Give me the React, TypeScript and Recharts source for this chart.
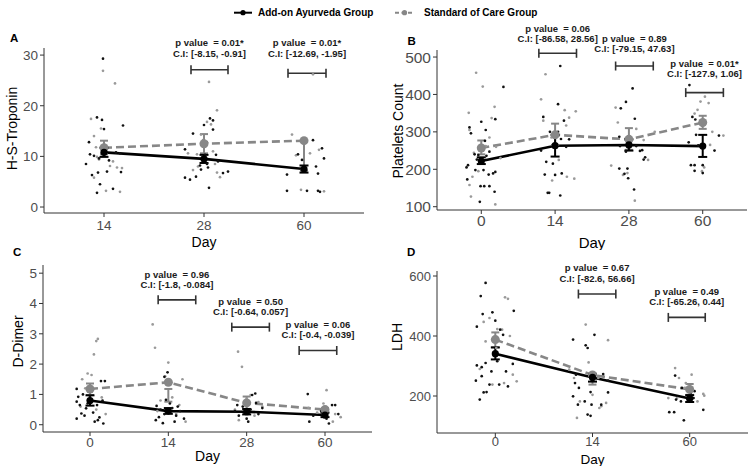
import React from "react";
import {
  ComposedChart,
  Scatter,
  Line,
  XAxis,
  YAxis,
  ErrorBar,
  ReferenceLine,
  ReferenceDot,
} from "recharts";

const FONT = '"Liberation Sans", Arial, Helvetica, sans-serif';
const BLACK = "#000000";
const GREY = "#878787";
const GREY_PT = "#9a9a9a";

// ---------- Panel A : H-S-Troponin ----------
const troponinDays = ["14", "28", "60"];
const troponinAyurPoints = [
  [0.99, 29.3], [0.93, 17.7], [0.98, 17.2], [1.19, 16.1], [1.0, 15.4], [0.85, 12.8], [0.82, 8.5], [0.86, 10.4], [0.9, 10.1], [0.95, 9.6],
  [1.16, 10.6], [0.94, 6.8], [1.03, 7.0], [1.17, 6.9], [0.96, 4.5], [0.93, 2.8], [1.09, 3.6], [0.88, 6.3], [1.12, 10.8], [1.05, 9.2],
  [1.89, 14.5], [2.06, 17.5], [2.09, 17.1], [2.0, 16.2], [2.09, 15.3], [2.03, 12.7], [1.81, 11.4], [2.01, 10.3], [2.12, 10.3], [2.14, 9.0],
  [2.03, 8.5], [1.96, 8.2], [1.97, 7.4], [2.04, 7.8], [2.24, 7.0], [2.19, 6.7], [1.81, 5.8], [1.86, 5.4], [1.92, 6.0], [2.05, 3.8],
  [3.09, 13.2], [2.94, 10.4], [3.18, 11.6], [3.2, 9.6], [3.12, 8.0], [3.14, 6.6], [3.14, 3.2], [3.03, 3.2], [2.83, 3.2], [2.83, 6.4],
  [2.98, 9.3], [3.16, 3.0],
];
const troponinSocPoints = [
  [0.99, 26.9], [1.11, 24.4], [0.87, 17.4], [0.9, 14.0], [0.97, 15.5], [0.92, 11.8], [0.95, 9.4], [1.09, 9.0], [1.13, 7.8], [1.18, 7.7],
  [1.02, 3.2], [1.16, 3.0], [0.9, 5.8], [0.93, 9.9], [1.06, 8.1], [0.98, 10.4],
  [2.05, 24.7], [2.13, 19.1], [2.03, 16.8], [2.07, 16.3], [1.97, 14.3], [1.84, 10.6], [1.93, 10.4], [1.94, 8.0], [1.89, 7.3], [2.13, 6.8],
  [2.16, 5.9], [2.11, 8.5], [1.99, 13.2], [2.09, 11.0],
  [3.09, 26.2], [2.88, 14.3], [3.15, 11.3], [2.97, 3.4], [3.06, 10.6], [3.02, 7.2], [2.92, 10.2], [3.2, 3.1],
];
// [day index, mean, lower, upper]
const troponinAyurMeans = [[1, 10.8, 9.9, 11.7], [2, 9.5, 8.7, 10.3], [3, 7.5, 6.8, 8.2]];
const troponinSocMeans = [[1, 11.7, 10.4, 13.1], [2, 12.5, 10.6, 14.4], [3, 13.1, 7.2, 13.2]];
const troponinNotes = [
  { x1: 1.87, x2: 2.24, y: 27.1, textY: 29.7, p: "0.01*", ci: "[-8.15, -0.91]" },
  { x1: 2.84, x2: 3.22, y: 26.4, textY: 29.7, p: "0.01*", ci: "[-12.69, -1.95]" },
];

// ---------- Panel B : Platelets Count ----------
const plateletDays = ["0", "14", "28", "60"];
const plateletAyurPoints = [
  [1.3, 420], [1.0, 327], [1.06, 305], [1.19, 334], [0.84, 312], [0.86, 296], [1.05, 276], [0.96, 238], [0.94, 226], [0.91, 240],
  [0.82, 211], [0.8, 205], [0.92, 198], [1.03, 198], [1.1, 186], [1.16, 189], [1.19, 193], [0.81, 173], [1.04, 155], [0.99, 155],
  [1.11, 155], [0.98, 113], [1.18, 140], [1.11, 247], [1.07, 236],
  [2.07, 476], [2.04, 374], [1.84, 340], [1.93, 300], [2.04, 300], [2.08, 281], [1.88, 220], [1.97, 215], [2.09, 189], [2.0, 185],
  [1.86, 186], [1.9, 137], [1.92, 137], [2.07, 130], [2.15, 260], [2.19, 280], [1.81, 250], [2.12, 330],
  [3.05, 416], [2.96, 380], [2.89, 363], [3.08, 335], [2.87, 287], [3.1, 262], [2.88, 262], [2.96, 247], [3.15, 249], [3.18, 251],
  [2.87, 202], [2.98, 202], [2.94, 188], [2.99, 176], [3.07, 146], [3.2, 226], [3.22, 232],
  [3.82, 425], [3.86, 340], [3.9, 333], [3.99, 318], [3.81, 272], [3.91, 292], [3.94, 264], [3.84, 211], [3.89, 211], [4.0, 211],
  [3.89, 196], [4.0, 190], [4.16, 250], [4.22, 290],
];
const plateletSocPoints = [
  [0.93, 458], [1.18, 367], [1.02, 421], [0.83, 351], [0.84, 305], [1.2, 260], [0.88, 180], [0.84, 158], [0.86, 127], [1.19, 106],
  [1.06, 262], [1.11, 285], [1.14, 337], [0.96, 195], [1.26, 230], [0.9, 244],
  [1.87, 454], [1.81, 387], [2.13, 358], [2.19, 338], [2.15, 317], [1.84, 330], [2.16, 180], [1.96, 170], [2.26, 175], [2.28, 355],
  [2.05, 225], [1.95, 285],
  [2.82, 365], [2.85, 325], [3.08, 116], [2.98, 190], [2.92, 185], [3.1, 308], [3.2, 278], [2.76, 210], [3.35, 300], [3.26, 225],
  [4.03, 394], [3.97, 381], [4.08, 377], [3.93, 359], [3.89, 349], [4.13, 300], [3.99, 195], [4.02, 205], [4.28, 290], [4.1, 265],
];
const plateletAyurMeans = [[1, 222, 214, 232], [2, 263, 234, 292], [3, 265, 250, 280], [4, 262, 233, 292]];
const plateletSocMeans = [[1, 257, 240, 277], [2, 292, 265, 322], [3, 280, 252, 310], [4, 325, 308, 343]];
const plateletNotes = [
  { x1: 1.78, x2: 2.29, y: 510, textY: 539, p: "0.06", ci: "[-86.58, 28.56]" },
  { x1: 2.82, x2: 3.33, y: 476, textY: 513, p: "0.89", ci: "[-79.15, 47.63]" },
  { x1: 3.77, x2: 4.28, y: 405, textY: 446, p: "0.01*", ci: "[-127.9, 1.06]" },
];

// ---------- Panel C : D-Dimer ----------
const dimerDays = ["0", "14", "28", "60"];
const dimerAyurPoints = [
  [0.83, 1.18], [1.14, 1.44], [1.19, 1.44], [0.91, 1.0], [0.83, 0.76], [0.87, 0.65], [0.95, 0.54], [1.1, 0.15], [1.17, 0.04], [0.83, 0.2],
  [0.89, 0.37], [0.93, 0.3], [1.04, 0.4], [1.12, 0.24], [0.97, 0.7], [1.0, 0.92], [1.09, 0.65], [0.85, 0.92], [1.16, 0.8], [1.06, 0.1],
  [1.99, 1.73], [1.95, 1.58], [1.84, 0.15], [1.93, 0.05], [1.85, 0.62], [1.9, 0.5], [1.95, 0.35], [2.05, 0.55], [2.1, 0.3], [2.15, 0.45],
  [2.2, 0.2], [1.88, 0.25], [2.02, 0.7], [2.08, 0.1], [1.97, 0.82], [2.12, 0.6], [2.0, 0.4],
  [3.11, 1.03], [3.07, 0.98], [2.85, 0.45], [2.9, 0.3], [2.95, 0.6], [3.0, 0.2], [3.05, 0.5], [3.15, 0.35], [3.2, 0.55], [2.88, 0.65],
  [3.02, 0.1], [3.12, 0.72], [2.97, 0.4],
  [3.78, 1.01], [4.13, 0.65], [4.09, 0.65], [3.85, 0.3], [3.8, 0.1], [4.02, 0.2], [4.05, 0.04], [3.95, 0.45], [4.17, 0.35],
];
const dimerSocPoints = [
  [1.1, 2.83], [1.08, 2.76], [1.05, 2.32], [0.97, 1.69], [1.02, 1.64], [0.9, 1.5], [0.94, 1.2], [1.15, 0.9], [0.88, 0.6], [1.2, 0.35],
  [0.98, 0.85], [1.08, 0.5],
  [1.8, 3.31], [1.83, 2.54], [2.0, 2.05], [2.18, 1.5], [1.96, 1.6], [2.22, 0.1], [2.1, 0.35], [1.9, 0.8], [2.05, 0.9], [1.86, 0.45],
  [2.14, 0.65],
  [2.89, 2.41], [2.94, 1.91], [3.05, 0.98], [2.85, 0.5], [3.1, 0.3], [3.2, 0.6], [2.9, 0.15], [3.15, 0.75], [3.0, 0.85],
  [4.02, 1.14], [3.79, 0.56], [4.13, 0.35], [4.1, 0.1], [3.9, 0.4], [4.2, 0.25], [3.98, 0.7],
];
const dimerAyurMeans = [[1, 0.8, 0.63, 0.97], [2, 0.45, 0.36, 0.55], [3, 0.43, 0.34, 0.52], [4, 0.32, 0.25, 0.4]];
const dimerSocMeans = [[1, 1.18, 0.98, 1.36], [2, 1.4, 0.76, 1.18], [3, 0.72, 0.52, 0.93], [4, 0.5, 0.38, 0.55]];
const dimerNotes = [
  { x1: 1.87, x2: 2.35, y: 4.12, textY: 4.51, p: "0.96", ci: "[-1.8, -0.084]" },
  { x1: 2.81, x2: 3.29, y: 3.22, textY: 3.62, p: "0.50", ci: "[-0.64, 0.057]" },
  { x1: 3.67, x2: 4.15, y: 2.45, textY: 2.86, p: "0.06", ci: "[-0.4, -0.039]" },
];

// ---------- Panel D : LDH ----------
const ldhDays = ["0", "14", "60"];
const ldhAyurPoints = [
  [0.9, 577], [0.85, 533], [0.97, 479], [0.87, 473], [1.0, 451], [0.81, 431], [1.05, 421], [1.19, 484], [0.81, 302], [0.86, 296],
  [0.9, 310], [1.02, 316], [1.18, 307], [0.96, 282], [1.11, 282], [0.86, 266], [0.8, 251], [0.94, 238], [1.04, 238], [1.13, 232],
  [0.88, 212], [0.91, 213], [0.84, 188], [1.08, 404],
  [2.02, 404], [1.8, 388], [1.93, 369], [1.95, 360], [1.83, 271], [1.82, 243], [2.16, 251], [1.86, 227], [1.98, 213], [2.16, 212],
  [1.8, 199], [1.92, 182], [1.85, 171], [1.99, 171], [2.09, 171], [1.95, 138], [1.98, 134], [2.11, 273],
  [2.85, 268], [2.79, 146], [2.84, 146], [2.94, 119], [3.14, 154], [2.91, 182], [3.01, 210], [2.92, 227], [3.04, 193], [3.05, 216],
  [2.86, 188], [2.98, 188],
];
const ldhSocPoints = [
  [1.1, 529], [1.13, 524], [0.94, 460], [0.88, 447], [1.02, 423], [1.07, 421], [1.01, 360], [0.84, 290], [1.18, 271], [1.22, 249],
  [0.97, 238], [1.09, 243], [0.9, 382], [1.15, 400],
  [1.93, 438], [2.16, 386], [1.76, 288], [1.96, 312], [2.09, 166], [2.07, 160], [1.84, 127], [1.87, 182], [2.14, 177], [2.0, 204],
  [2.06, 260], [1.81, 260],
  [2.85, 293], [3.02, 271], [2.89, 260], [2.96, 243], [3.15, 201], [3.14, 207], [2.87, 193], [2.95, 227], [2.78, 193], [3.08, 182],
];
const ldhAyurMeans = [[1, 341, 322, 362], [2, 262, 248, 272], [3, 192, 180, 203]];
const ldhSocMeans = [[1, 388, 362, 412], [2, 270, 238, 276], [3, 222, 204, 240]];
const ldhNotes = [
  { x1: 1.855, x2: 2.24, y: 540, textY: 581, p: "0.67", ci: "[-82.6, 56.66]" },
  { x1: 2.78, x2: 3.16, y: 462, textY: 503, p: "0.49", ci: "[-65.26, 0.44]" },
];

// ---------- helpers ----------
const toPoints = (arr) => arr.map(([x, y]) => ({ x, y }));
const toMeans = (arr) => arr.map(([x, y, lo, hi]) => ({ x, y, err: [y - lo, hi - y] }));

const dotShape = (color, r) => (p) =>
  p.cx == null ? null : <circle cx={p.cx} cy={p.cy} r={r} fill={color} />;

const bracketShape = (p) => {
  const { x1, y1, x2, y2 } = p;
  const h = 4.5;
  const st = { stroke: "#333", strokeWidth: 1.6 };
  return (
    <g>
      <line x1={x1} y1={y1} x2={x2} y2={y2} {...st} />
      <line x1={x1} y1={y1 - h} x2={x1} y2={y1 + h} {...st} />
      <line x1={x2} y1={y2 - h} x2={x2} y2={y2 + h} {...st} />
    </g>
  );
};

const noteShape = (note) => (p) => (
  <g>
    <text x={p.cx} y={p.cy - 10.3} textAnchor="middle" fontFamily={FONT} fontWeight="bold" fontSize={9.5} fill="#1a1a1a" style={{ whiteSpace: "pre" }}>
      {`p value  = ${note.p}`}
    </text>
    <text x={p.cx} y={p.cy} textAnchor="middle" fontFamily={FONT} fontWeight="bold" fontSize={9.5} fill="#1a1a1a" style={{ whiteSpace: "pre" }}>
      {`C.I: ${note.ci}`}
    </text>
  </g>
);

const yTitleContent = (text, cx, dy) => (props) => {
  const vb = props.viewBox || props;
  const x = vb.x + cx;
  const y = vb.y + vb.height / 2 + dy;
  return (
    <text x={x} y={y} transform={`rotate(-90 ${x} ${y})`} textAnchor="middle" dominantBaseline="central" fontFamily={FONT} fontSize={14} fill="#000">
      {text}
    </text>
  );
};

const xTitleContent = (baseline, size) => (props) => {
  const vb = props.viewBox || props;
  return (
    <text x={vb.x + vb.width / 2} y={vb.y + baseline} textAnchor="middle" fontFamily={FONT} fontSize={size} fill="#000">
      Day
    </text>
  );
};

function Panel({ cfg }) {
  const {
    left, top, width, height, margin, yWidth, xHeight, days, yDomain, yTicks, yTitle, yTitleX, yTitleDy,
    dayBaseline, daySize, tickSize, xTickMargin, ayur, soc, ayurMeans, socMeans, notes,
  } = cfg;
  const n = days.length;
  const ayurPts = toPoints(ayur);
  const socPts = toPoints(soc);
  const ayurM = toMeans(ayurMeans);
  const socM = toMeans(socMeans);
  const tickStyle = { fill: "#4d4d4d", fontSize: tickSize, fontFamily: FONT };
  return (
    <div style={{ position: "absolute", left, top, width, height }}>
      <ComposedChart width={width} height={height} margin={margin} style={{ overflow: "visible" }}>
        <XAxis
          type="number"
          dataKey="x"
          domain={[0.4, n + 0.6]}
          ticks={days.map((_, i) => i + 1)}
          tickFormatter={(v) => days[v - 1]}
          allowDataOverflow
          height={xHeight}
          stroke="#333"
          tickSize={4}
          tickMargin={xTickMargin}
          tick={tickStyle}
          label={xTitleContent(dayBaseline, daySize)}
        />
        <YAxis
          type="number"
          domain={yDomain}
          ticks={yTicks}
          allowDataOverflow
          width={yWidth}
          stroke="#333"
          tickSize={4}
          tickMargin={2}
          tick={tickStyle}
          label={yTitleContent(yTitle, yTitleX, yTitleDy)}
        />
        <Scatter data={socPts} dataKey="y" shape={dotShape(GREY_PT, 1.35)} isAnimationActive={false} />
        <Scatter data={ayurPts} dataKey="y" shape={dotShape("#111", 1.35)} isAnimationActive={false} />
        <Line data={socM} dataKey="y" stroke={GREY} strokeWidth={2.6} strokeDasharray="8 4" dot={false} activeDot={false} isAnimationActive={false} />
        <Line data={ayurM} dataKey="y" stroke={BLACK} strokeWidth={2.6} dot={false} activeDot={false} isAnimationActive={false} />
        <Scatter data={socM} dataKey="y" shape={dotShape(GREY, 4.5)} isAnimationActive={false}>
          <ErrorBar dataKey="err" direction="y" width={4} stroke={GREY} strokeWidth={2} isAnimationActive={false} />
        </Scatter>
        <Scatter data={ayurM} dataKey="y" shape={dotShape(BLACK, 3.6)} isAnimationActive={false}>
          <ErrorBar dataKey="err" direction="y" width={4.5} stroke={BLACK} strokeWidth={2} isAnimationActive={false} />
        </Scatter>
        {notes.map((nt, i) => (
          <ReferenceLine
            key={`b${i}`}
            segment={[{ x: nt.x1, y: nt.y }, { x: nt.x2, y: nt.y }]}
            ifOverflow="visible"
            shape={bracketShape}
          />
        ))}
        {notes.map((nt, i) => (
          <ReferenceDot key={`t${i}`} x={(nt.x1 + nt.x2) / 2} y={nt.textY} r={0} ifOverflow="visible" shape={noteShape(nt)} />
        ))}
      </ComposedChart>
    </div>
  );
}

const panels = [
  {
    left: 0, top: 0, width: 375, height: 250, margin: { top: 48, right: 11, left: 0, bottom: 0 },
    yWidth: 44, xHeight: 37, days: troponinDays, yDomain: [-1.18, 31.4], yTicks: [0, 10, 20, 30],
    yTitle: "H-S-Troponin", yTitleX: 11.7, yTitleDy: -2, dayBaseline: 34, daySize: 14, tickSize: 13.5, xTickMargin: 3,
    ayur: troponinAyurPoints, soc: troponinSocPoints, ayurMeans: troponinAyurMeans, socMeans: troponinSocMeans, notes: troponinNotes,
  },
  {
    left: 375, top: 0, width: 375, height: 250, margin: { top: 50, right: 3, left: 0, bottom: 0 },
    yWidth: 62, xHeight: 40, days: plateletDays, yDomain: [91.2, 518.8], yTicks: [100, 200, 300, 400, 500],
    yTitle: "Platelets Count", yTitleX: 23, yTitleDy: 1, dayBaseline: 37.5, daySize: 15, tickSize: 15.5, xTickMargin: 1,
    ayur: plateletAyurPoints, soc: plateletSocPoints, ayurMeans: plateletAyurMeans, socMeans: plateletSocMeans, notes: plateletNotes,
  },
  {
    left: 0, top: 250, width: 375, height: 216, margin: { top: 15, right: 3, left: 0, bottom: 0 },
    yWidth: 43, xHeight: 34, days: dimerDays, yDomain: [-0.24, 5.27], yTicks: [0, 1, 2, 3, 4, 5],
    yTitle: "D-Dimer", yTitleX: 17.7, yTitleDy: -7, dayBaseline: 29, daySize: 14, tickSize: 13.5, xTickMargin: 1,
    ayur: dimerAyurPoints, soc: dimerSocPoints, ayurMeans: dimerAyurMeans, socMeans: dimerSocMeans, notes: dimerNotes,
  },
  {
    left: 375, top: 250, width: 375, height: 216, margin: { top: 21, right: 2, left: 0, bottom: 0 },
    yWidth: 62, xHeight: 33, days: ldhDays, yDomain: [76.7, 616.7], yTicks: [200, 400, 600],
    yTitle: "LDH", yTitleX: 22, yTitleDy: -15, dayBaseline: 30.5, daySize: 13.5, tickSize: 13, xTickMargin: 0,
    ayur: ldhAyurPoints, soc: ldhSocPoints, ayurMeans: ldhAyurMeans, socMeans: ldhSocMeans, notes: ldhNotes,
  },
];

const panelTags = [
  { tag: "A", x: 10, y: 41.5 },
  { tag: "B", x: 407.5, y: 44.5 },
  { tag: "C", x: 13, y: 256 },
  { tag: "D", x: 407, y: 256 },
];

export default function App() {
  return (
    <div style={{ position: "absolute", left: 0, top: 0, width: 750, height: 466, background: "#fff", fontFamily: FONT, overflow: "hidden" }}>
      {panels.map((p, i) => (
        <Panel key={i} cfg={p} />
      ))}
      <svg width={750} height={466} style={{ position: "absolute", left: 0, top: 0, pointerEvents: "none" }}>
        {panelTags.map((t) => (
          <text key={t.tag} x={t.x} y={t.y} fontFamily={FONT} fontWeight="bold" fontSize={11.5} fill="#000">
            {t.tag}
          </text>
        ))}
        <line x1={234} y1={12.7} x2={252} y2={12.7} stroke={BLACK} strokeWidth={2} />
        <circle cx={243} cy={12.7} r={2.6} fill={BLACK} />
        <text x={258} y={16.3} fontFamily={FONT} fontWeight="bold" fontSize={10} fill="#000">
          Add-on Ayurveda Group
        </text>
        <line x1={395} y1={12.7} x2={414} y2={12.7} stroke={GREY} strokeWidth={2} strokeDasharray="4 2.5" />
        <circle cx={404.5} cy={12.7} r={2.6} fill={GREY} />
        <text x={424} y={16.3} fontFamily={FONT} fontWeight="bold" fontSize={10} fill="#000">
          Standard of Care Group
        </text>
      </svg>
    </div>
  );
}
